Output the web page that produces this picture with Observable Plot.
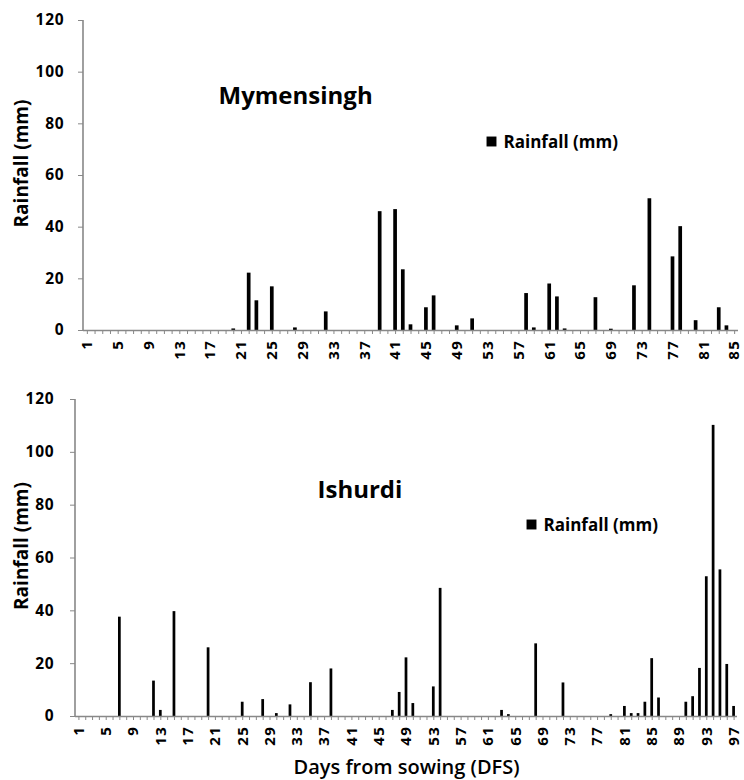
<!DOCTYPE html>
<html>
<head>
<meta charset="utf-8">
<script src="https://cdn.jsdelivr.net/npm/d3@7"></script>
<script src="https://cdn.jsdelivr.net/npm/@observablehq/plot@0.6"></script>
<style>
  body { margin: 0; background: #fff; }
  #chart { width: 744px; }
  #chart svg { display: block; }
  #chart g[aria-label="x-axis tick label"] text { letter-spacing: 1.6px; }
  #chart g[aria-label="y-axis tick label"] text { letter-spacing: 0.8px; }
</style>
</head>
<body>
<div id="chart"></div>
<script>
// ---- Data ----
const mymensinghDays = [20, 22, 23, 25, 28, 32, 39, 41, 42, 43, 45, 46, 49, 51, 58, 59, 61, 62, 63, 67, 69, 72, 74, 77, 78, 80, 83, 84];
const mymensinghRain = [0.6, 22.2, 11.5, 16.9, 1.0, 7.2, 46.0, 46.8, 23.5, 2.2, 8.8, 13.4, 1.8, 4.5, 14.3, 1.0, 18.0, 13.0, 0.6, 12.7, 0.5, 17.3, 51.0, 28.5, 40.2, 3.8, 8.8, 1.8];
const mymensinghLastDay = 85;

const ishurdiDays = [7, 12, 13, 15, 20, 25, 28, 30, 32, 35, 38, 47, 48, 49, 50, 53, 54, 63, 64, 68, 72, 79, 81, 82, 83, 84, 85, 86, 90, 91, 92, 93, 94, 95, 96, 97];
const ishurdiRain = [37.6, 13.4, 2.3, 39.7, 26.0, 5.4, 6.4, 1.1, 4.4, 12.8, 18.0, 2.3, 9.1, 22.2, 4.9, 11.2, 48.5, 2.3, 0.7, 27.5, 12.7, 0.7, 3.8, 1.1, 1.1, 5.4, 21.9, 7.0, 5.4, 7.5, 18.2, 52.9, 110.2, 55.5, 19.7, 3.8];
const ishurdiLastDay = 97;

const mymensinghTickLabels = [1, 5, 9, 13, 17, 21, 25, 29, 33, 37, 41, 45, 49, 53, 57, 61, 65, 69, 73, 77, 81, 85];
const ishurdiTickLabels = [1, 5, 9, 13, 17, 21, 25, 29, 33, 37, 41, 45, 49, 53, 57, 61, 65, 69, 73, 77, 81, 85, 89, 93, 97];
const yTicks = [0, 20, 40, 60, 80, 100, 120];

const titleTop = "Mymensingh";
const titleBottom = "Ishurdi";
const seriesName = "Rainfall (mm)";
const yTitle = "Rainfall (mm)";
const xTitle = "Days from sowing (DFS)";

const FONT = "'Open Sans', 'DejaVu Sans', sans-serif";
const AXIS_GRAY = "#888888";

function yAxisLine(index, scales, values, dims) {
  const ns = "http://www.w3.org/2000/svg";
  const line = document.createElementNS(ns, "line");
  const x = dims.marginLeft;
  line.setAttribute("x1", x);
  line.setAttribute("x2", x);
  line.setAttribute("y1", scales.y(120));
  line.setAttribute("y2", scales.y(0));
  line.setAttribute("stroke", AXIS_GRAY);
  line.setAttribute("stroke-width", 1.6);
  return line;
}

function makePanel(cfg) {
  const days = d3.range(1, cfg.lastDay + 1);
  const bars = cfg.days.map((d, i) => ({day: d, rain: cfg.rain[i]}));
  const labelSet = new Set(cfg.tickLabels);
  return Plot.plot({
    width: 744,
    height: cfg.height,
    marginTop: cfg.mt,
    marginBottom: cfg.mb,
    marginLeft: cfg.ml,
    marginRight: cfg.mr,
    style: {fontFamily: FONT, fontWeight: "bold", fontSize: "15px", background: "#fff", color: "#000", overflow: "visible"},
    x: {type: "band", domain: days, paddingInner: cfg.pad, paddingOuter: cfg.pad / 2, align: 0.5},
    y: {domain: [0, 120]},
    marks: [
      Plot.barY(bars, {x: "day", y: "rain", fill: "#000"}),
      Plot.ruleY([0], {stroke: AXIS_GRAY, strokeWidth: 1.6}),
      yAxisLine,
      Plot.axisY({ticks: yTicks, tickSize: 5, tickPadding: cfg.yPad, stroke: AXIS_GRAY, fill: "#000", label: null, fontSize: 15.5, fontWeight: "bold"}),
      Plot.axisX({ticks: days, tickSize: 4, tickPadding: 5, tickRotate: -90, stroke: AXIS_GRAY, fill: "#000", label: null,
        tickFormat: d => labelSet.has(d) ? String(d) : "", fontSize: 15, fontWeight: "bold"}),
      Plot.text([cfg.title], {frameAnchor: "top-left", dx: cfg.titleDx, dy: cfg.titleDy, textAnchor: "start", lineAnchor: "bottom", fontSize: 24, fontWeight: "bold", fill: "#000"}),
      Plot.dot([seriesName], {frameAnchor: "top-left", dx: cfg.legDx, dy: cfg.legDy, symbol: "square", r: 5.6, fill: "#000", stroke: null}),
      Plot.text([seriesName], {frameAnchor: "top-left", dx: cfg.legDx + 12, dy: cfg.legDy + 1, textAnchor: "start", lineAnchor: "middle", fontSize: 17, fontWeight: "bold", fill: "#000"}),
      Plot.text([yTitle], {frameAnchor: "left", dx: cfg.yTitleDx, dy: -12, rotate: -90, textAnchor: "middle", lineAnchor: "middle", fontSize: 19, fontWeight: "bold", fill: "#000"}),
      ...(cfg.xTitle ? [Plot.text([cfg.xTitle], {frameAnchor: "bottom", dy: 51, textAnchor: "middle", lineAnchor: "middle", fontSize: 20, fontWeight: 600, fill: "#000"})] : [])
    ]
  });
}

const chart = document.getElementById("chart");
chart.append(makePanel({
  days: mymensinghDays, rain: mymensinghRain, lastDay: mymensinghLastDay, tickLabels: mymensinghTickLabels,
  height: 380, mt: 20, mb: 50, ml: 83, mr: 6, pad: 0.52, yPad: 14,
  title: titleTop, titleDx: 135, titleDy: 83,
  legDx: 408, legDy: 121, yTitleDx: -62
}));
chart.append(makePanel({
  days: ishurdiDays, rain: ishurdiRain, lastDay: ishurdiLastDay, tickLabels: ishurdiTickLabels,
  height: 400, mt: 19, mb: 64, ml: 75, mr: 7, pad: 0.6, yPad: 16,
  title: titleBottom, titleDx: 242, titleDy: 98,
  legDx: 456, legDy: 125, yTitleDx: -54, xTitle: xTitle
}));
</script>
</body>
</html>
